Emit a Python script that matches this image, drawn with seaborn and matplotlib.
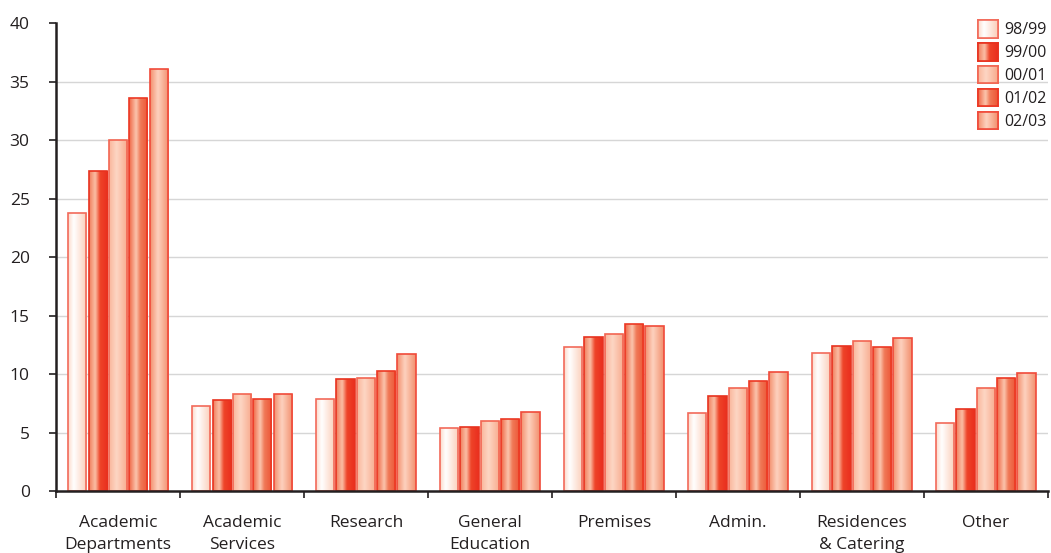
import numpy as np
import pandas as pd
import matplotlib
matplotlib.use("Agg")
import matplotlib.pyplot as plt
from matplotlib.colors import LinearSegmentedColormap
import seaborn as sns

categories = ["Academic\nDepartments", "Academic\nServices", "Research", "General\nEducation",
              "Premises", "Admin.", "Residences\n& Catering", "Other"]
years = ["98/99", "99/00", "00/01", "01/02", "02/03"]
values = {
    "98/99": [23.8, 7.3, 7.9, 5.4, 12.3, 6.7, 11.8, 5.8],
    "99/00": [27.4, 7.8, 9.6, 5.5, 13.2, 8.1, 12.4, 7.0],
    "00/01": [30.0, 8.3, 9.7, 6.0, 13.4, 8.8, 12.8, 8.8],
    "01/02": [33.6, 7.9, 10.3, 6.2, 14.3, 9.4, 12.3, 9.7],
    "02/03": [36.1, 8.3, 11.7, 6.8, 14.1, 10.2, 13.1, 10.1],
}

# horizontal shading for each series: (position, colour) stops and outline colour
shading = {
    "98/99": ([(0.0, "#fcd9c9"), (0.3, "#ffffff"), (1.0, "#fbcdb8")], "#f26a5a"),
    "99/00": ([(0.0, "#f07c5b"), (0.33, "#fbbfa6"), (0.58, "#ee4429"), (1.0, "#ea2e1e")], "#e8321f"),
    "00/01": ([(0.0, "#fab59a"), (0.4, "#fdd6c4"), (1.0, "#f8a98b")], "#f26552"),
    "01/02": ([(0.0, "#ef6644"), (0.38, "#fbc6ae"), (0.6, "#f07a58"), (1.0, "#ed5535")], "#ec3824"),
    "02/03": ([(0.0, "#f38e6c"), (0.42, "#fdd2bf"), (1.0, "#f28e6c")], "#f04a3a"),
}

df = pd.DataFrame([(c, y, v) for y in years for c, v in zip(categories, values[y])],
                  columns=["category", "year", "value"])

sns.set_theme(style="white")
plt.rcParams["font.family"] = ["Open Sans", "DejaVu Sans"]

fig = plt.figure(figsize=(10.51, 5.53), dpi=100)
ax = fig.add_axes([0.0533, 0.112, 0.9437, 0.846])

palette = {y: shading[y][0][0][1] for y in years}
sns.barplot(data=df, x="category", y="value", hue="year", order=categories, hue_order=years,
            palette=palette, width=0.82, gap=0.1, legend=False, ax=ax, saturation=1)

gradient = np.linspace(0, 1, 256).reshape(1, -1)
cmaps = {y: LinearSegmentedColormap.from_list("shade_" + y.replace("/", "_"), shading[y][0])
         for y in years}

for year, container in zip(years, ax.containers):
    for bar in container:
        x0, y0 = bar.get_x(), bar.get_y()
        w, h = bar.get_width(), bar.get_height()
        img = ax.imshow(gradient, cmap=cmaps[year], aspect="auto",
                        extent=(x0, x0 + w, y0, y0 + h), zorder=2, interpolation="bicubic")
        img.set_clip_path(bar)
        bar.set_facecolor("none")
        bar.set_edgecolor(shading[year][1])
        bar.set_linewidth(1.2)
        bar.set_zorder(3)

ax.set_xlim(-0.5, len(categories) - 0.5)
ax.set_ylim(0, 40)
ax.set_yticks(range(0, 41, 5))
ax.set_xlabel("")
ax.set_ylabel("")

ax.grid(axis="y", color="#d6d6d6", linewidth=1.0, zorder=0)
ax.set_axisbelow(True)
ax.yaxis.get_gridlines()[-1].set_visible(False)
ax.yaxis.get_gridlines()[0].set_visible(False)

for side in ("top", "right"):
    ax.spines[side].set_visible(False)
for side in ("left", "bottom"):
    ax.spines[side].set_color("#231f20")
    ax.spines[side].set_linewidth(1.8)
    ax.spines[side].set_zorder(5)

ax.tick_params(axis="y", which="major", left=True, length=5, width=1.2, color="#231f20",
               pad=14, labelsize=12.5, labelcolor="#231f20")
ax.set_xticks(np.arange(-0.5, len(categories), 1.0), minor=True)
ax.tick_params(axis="x", which="major", bottom=False, length=0, pad=17, labelsize=12.5,
               labelcolor="#231f20")
ax.tick_params(axis="x", which="minor", bottom=True, length=5, width=1.2, color="#231f20")
for lab in ax.get_xticklabels():
    lab.set_linespacing(1.55)

# legend with shaded swatches
handles = [plt.Rectangle((0, 0), 1, 1, facecolor="none", edgecolor=shading[y][1], linewidth=1.2)
           for y in years]
leg = ax.legend(handles, years, loc="upper right", bbox_to_anchor=(1.005, 1.02), frameon=False,
                fontsize=11.5, handlelength=1.2, handleheight=1.3, handletextpad=0.4,
                labelspacing=0.3, borderaxespad=0.0)
for t in leg.get_texts():
    t.set_color("#231f20")

fig.canvas.draw()
inv = fig.transFigure.inverted()
for y, patch in zip(years, leg.get_patches()):
    bb = patch.get_window_extent().transformed(inv)
    sub = fig.add_axes([bb.x0, bb.y0, bb.width, bb.height])
    sub.imshow(gradient, cmap=cmaps[y], aspect="auto", interpolation="bicubic")
    sub.set_xticks([])
    sub.set_yticks([])
    for s in sub.spines.values():
        s.set_color(shading[y][1])
        s.set_linewidth(1.2)

fig.savefig("out.png", dpi=100)
